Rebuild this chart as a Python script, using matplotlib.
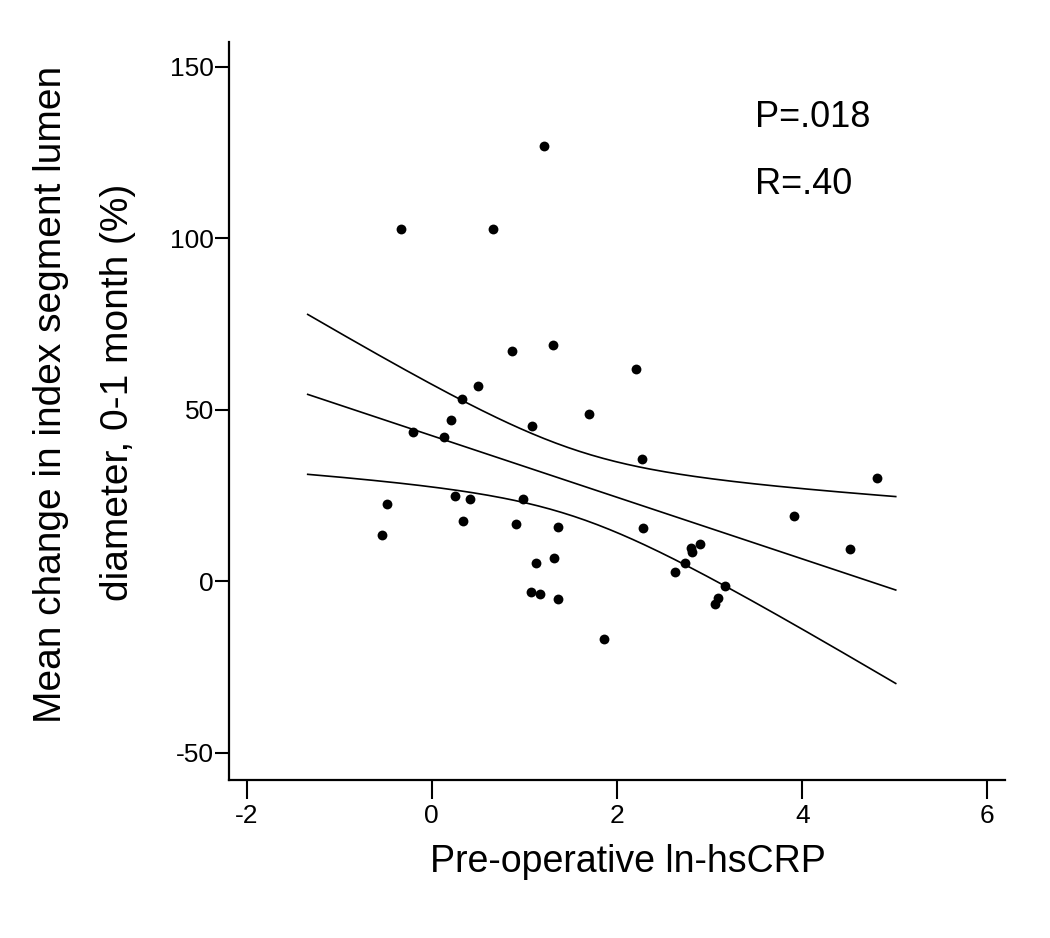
import numpy as np
import matplotlib
matplotlib.use("Agg")
import matplotlib.pyplot as plt

# ---- data ----
ln_hscrp = [-0.54, -0.48, -0.33, -0.205, 0.13, 0.21, 0.25, 0.34, 0.33, 0.41,
            0.50, 0.66, 0.87, 0.91, 0.98, 1.08, 1.07, 1.12, 1.17, 1.21,
            1.31, 1.32, 1.36, 1.36, 1.70, 1.86, 2.21, 2.27, 2.28, 2.63,
            2.73, 2.80, 2.81, 2.90, 3.06, 3.09, 3.17, 3.91, 4.52, 4.81]
lumen_change = [13.6, 22.6, 102.6, 43.4, 42.2, 47.0, 24.8, 17.7, 53.1, 24.0,
                57.0, 102.6, 67.1, 16.6, 24.0, 45.3, -3.2, 5.4, -3.7, 127.0,
                68.8, 6.9, 15.8, -5.1, 48.8, -16.8, 61.8, 35.7, 15.6, 2.7,
                5.4, 9.8, 8.5, 10.9, -6.6, -4.8, -1.3, 19.1, 9.4, 30.0]
fit_range = [-1.34, 5.01]
x_ticks = [-2, 0, 2, 4, 6]
y_ticks = [-50, 0, 50, 100, 150]
annotations = ["P=.018", "R=.40"]
x_label = "Pre-operative ln-hsCRP"
y_label_lines = ["Mean change in index segment lumen", "diameter, 0-1 month (%)"]
t_crit = 2.024  # t(0.975, df=38)

x = np.array(ln_hscrp)
y = np.array(lumen_change)
n = len(x)
b, a = np.polyfit(x, y, 1)
xs = np.linspace(fit_range[0], fit_range[1], 200)
yfit = a + b * xs
resid = y - (a + b * x)
s = np.sqrt(np.sum(resid ** 2) / (n - 2))
sxx = np.sum((x - x.mean()) ** 2)
hw = t_crit * s * np.sqrt(1.0 / n + (xs - x.mean()) ** 2 / sxx)

plt.rcParams['font.family'] = ['Liberation Sans', 'DejaVu Sans']
plt.rcParams['axes.unicode_minus'] = False

W, H = 1050, 938
fig = plt.figure(figsize=(W / 100, H / 100), dpi=100)
ax = fig.add_axes([229 / W, 1 - 780 / H, (1005 - 229) / W, (780 - 42) / H])

ax.plot(xs, yfit, color='black', lw=1.2)
ax.plot(xs, yfit + hw, color='black', lw=1.2)
ax.plot(xs, yfit - hw, color='black', lw=1.2)
ax.scatter(x, y, s=50, color='black', marker='o', zorder=3, linewidths=0)

ax.set_xlim(-2.19, 6.19)
ax.set_ylim(-57.9, 157.2)
ax.set_xticks(x_ticks)
ax.set_yticks(y_ticks)
ax.tick_params(axis='x', length=14, width=1.5, labelsize=19, pad=3)
ax.tick_params(axis='y', length=10, width=1.5, labelsize=19, pad=1)
for side in ['top', 'right']:
    ax.spines[side].set_visible(False)
for side in ['left', 'bottom']:
    ax.spines[side].set_linewidth(1.6)

fig.text(628 / W, 1 - 862 / H, x_label, fontsize=27, ha='center', va='center')
fig.text(61 / W, 1 - 394 / H, y_label_lines[0], fontsize=28, rotation=90,
         rotation_mode='anchor', ha='center', va='baseline')
fig.text(128 / W, 1 - 392 / H, y_label_lines[1], fontsize=28, rotation=90,
         rotation_mode='anchor', ha='center', va='baseline')

fig.text(755 / W, 1 - 126.7 / H, annotations[0], fontsize=26, ha='left', va='baseline')
fig.text(755 / W, 1 - 194 / H, annotations[1], fontsize=26, ha='left', va='baseline')

fig.savefig("out.png", dpi=100)
